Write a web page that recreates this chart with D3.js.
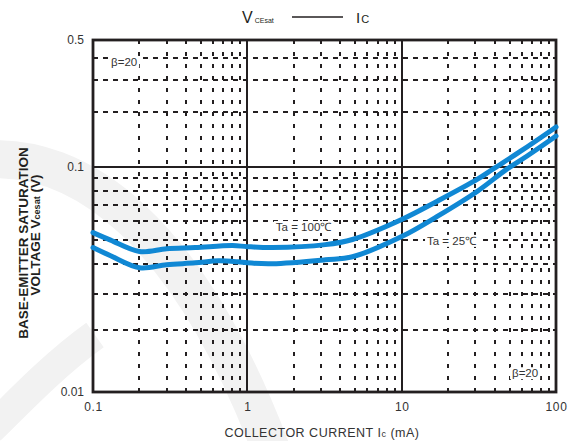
<!DOCTYPE html>
<html>
<head>
<meta charset="utf-8">
<script src="https://cdnjs.cloudflare.com/ajax/libs/d3/7.8.5/d3.min.js"></script>
<style>
  body { margin: 0; background: #fff; }
  svg { display: block; font-family: "Liberation Sans", Arial, sans-serif; }
</style>
</head>
<body>
<script>
(function() {

	// data
	var ic100  = [0.1, 0.13, 0.2, 0.3, 0.46, 0.8, 1, 1.45, 3.2, 4.8, 10, 17, 31, 39, 58, 96, 100];
	var vce100 = [0.0537, 0.050, 0.0449, 0.0461, 0.0466, 0.0475, 0.0470, 0.0466, 0.0479, 0.0503, 0.0608, 0.0723, 0.0891, 0.098, 0.121, 0.162, 0.166];

	var ic25  = [0.1, 0.13, 0.2, 0.3, 0.46, 0.65, 0.87, 1, 1.45, 3.2, 4.8, 10, 17, 31, 48, 65, 96, 100];
	var vce25 = [0.0466, 0.0431, 0.0385, 0.0396, 0.0403, 0.0411, 0.0407, 0.0403, 0.0400, 0.0415, 0.0427, 0.0517, 0.0626, 0.0795, 0.098, 0.115, 0.1444, 0.148];

	var xTicks = [0.1, 1, 10, 100];
	var yTicks = [0.01, 0.1, 0.5];
	var xMinor = [0.2, 0.3, 0.4, 0.5, 0.6, 0.7, 0.8, 0.9, 2, 3, 4, 5, 6, 7, 8, 9, 20, 30, 40, 50, 60, 70, 80, 90];
	var yMinor = [0.02, 0.03, 0.04, 0.05, 0.06, 0.07, 0.08, 0.09, 0.2, 0.3, 0.4];

	var margin = {top: 40, right: 20, bottom: 49, left: 93};
	var width = 576 - margin.left - margin.right;
	var height = 441 - margin.top - margin.bottom;

	var root = d3.select("body").append("svg")
		.attr("width", 576)
		.attr("height", 441);

	// faint watermark swoosh in the background
	var wm = root.append("g").attr("fill", "none").attr("stroke", "#f2f2f2");
	wm.append("path")
		.attr("d", "M-20,160 C80,150 190,230 275,460")
		.attr("stroke-width", 38);
	wm.append("path")
		.attr("d", "M-10,430 C30,390 60,360 95,335")
		.attr("stroke-width", 30);

	var svg = root.append("g")
		.attr("transform", "translate(" + margin.left + "," + margin.top + ")");

	var x = d3.scaleLog()
		.domain([0.1, 100])
		.range([0, width]);

	// the printed chart does not keep the same spacing in every decade
	var y = d3.scaleLog()
		.domain([0.01, 0.03, 0.1, 0.5])
		.range([height, 254, 127, 0]);

	var ink = "#231f20";

	// minor grid
	svg.selectAll(".hgrid")
		.data(yMinor)
	.enter().append("line")
		.attr("class", "hgrid")
		.attr("x1", 0).attr("x2", width)
		.attr("y1", function(d) { return Math.round(y(d)); })
		.attr("y2", function(d) { return Math.round(y(d)); })
		.attr("stroke", ink)
		.attr("stroke-width", 2)
		.attr("stroke-dasharray", "5,5");

	svg.selectAll(".vgrid")
		.data(xMinor)
	.enter().append("line")
		.attr("class", "vgrid")
		.attr("y1", 0).attr("y2", height)
		.attr("x1", function(d) { return Math.round(x(d)); })
		.attr("x2", function(d) { return Math.round(x(d)); })
		.attr("stroke", ink)
		.attr("stroke-width", 2)
		.attr("stroke-dasharray", "4,8");

	// major grid
	svg.selectAll(".vmajor")
		.data([1, 10])
	.enter().append("line")
		.attr("y1", 0).attr("y2", height)
		.attr("x1", function(d) { return Math.round(x(d)); })
		.attr("x2", function(d) { return Math.round(x(d)); })
		.attr("stroke", ink)
		.attr("stroke-width", 2);

	svg.append("line")
		.attr("x1", 0).attr("x2", width)
		.attr("y1", y(0.1)).attr("y2", y(0.1))
		.attr("stroke", ink)
		.attr("stroke-width", 2);

	// frame
	svg.append("rect")
		.attr("width", width)
		.attr("height", height)
		.attr("fill", "none")
		.attr("stroke", ink)
		.attr("stroke-width", 2.8);

	// axes (labels only)
	var xAxis = d3.axisBottom(x)
		.tickValues(xTicks)
		.tickFormat(function(d) { return d; })
		.tickSize(0)
		.tickPadding(10);

	var xg = svg.append("g")
		.attr("transform", "translate(0," + height + ")")
		.call(xAxis);
	xg.select(".domain").remove();
	xg.selectAll("text")
		.attr("font-size", 12)
		.attr("letter-spacing", 0.6)
		.attr("fill", "#333");

	var yAxis = d3.axisLeft(y)
		.tickValues(yTicks)
		.tickFormat(function(d) { return d; })
		.tickSize(0)
		.tickPadding(9);

	var yg = svg.append("g").call(yAxis);
	yg.select(".domain").remove();
	yg.selectAll("text")
		.attr("font-size", 12)
		.attr("fill", "#333");

	// labels in the plot, on white boxes (under the curves)
	function note(px, py, txt) {
		var g = svg.append("g").attr("transform", "translate(" + px + "," + py + ")");
		var t = g.append("text")
			.attr("font-size", 11.5)
			.attr("fill", "#333")
			.text(txt);
		var b = t.node().getBBox();
		g.insert("rect", "text")
			.attr("x", b.x - 2).attr("y", b.y)
			.attr("width", b.width + 4).attr("height", b.height)
			.attr("fill", "#fff");
	}

	note(x(0.131), y(0.36), "β=20");
	note(x(51.9), y(0.0118), "β=20");
	note(x(1.53), y(0.0545), "Ta = 100℃");
	note(x(14.6), y(0.0478), "Ta = 25℃");

	// curves
	var line = d3.line()
		.x(function(d) { return x(d[0]); })
		.y(function(d) { return y(d[1]); })
		.curve(d3.curveCatmullRom.alpha(0.5));

	var series = [d3.zip(ic100, vce100), d3.zip(ic25, vce25)];

	svg.selectAll(".curve")
		.data(series)
	.enter().append("path")
		.attr("class", "curve")
		.attr("d", line)
		.attr("fill", "none")
		.attr("stroke", "#1088d4")
		.attr("stroke-width", 5)
		.attr("stroke-linecap", "round");

	// legend at the top
	var leg = root.append("g").attr("fill", "#231f20");
	var lv = leg.append("text")
		.attr("x", 242).attr("y", 23)
		.attr("font-size", 16);
	lv.append("tspan").text("V");
	lv.append("tspan").attr("font-size", 7).attr("dx", 2).text("CEsat");

	leg.append("line")
		.attr("x1", 292).attr("x2", 343)
		.attr("y1", 17).attr("y2", 17)
		.attr("stroke", "#231f20")
		.attr("stroke-width", 1.5);

	var li = leg.append("text")
		.attr("x", 356).attr("y", 23)
		.attr("font-size", 15);
	li.append("tspan").text("I");
	li.append("tspan").attr("font-size", 11).attr("dx", 1).text("C");

	// axis titles
	var xt = root.append("text")
		.attr("x", 322).attr("y", 437)
		.attr("text-anchor", "middle")
		.attr("font-size", 12.5)
		.attr("letter-spacing", 0.5)
		.attr("fill", "#333");
	xt.append("tspan").text("COLLECTOR CURRENT  I");
	xt.append("tspan").attr("font-size", 9).text("c");
	xt.append("tspan").text("  (mA)");

	root.append("text")
		.attr("transform", "translate(28,243) rotate(-90)")
		.attr("text-anchor", "middle")
		.attr("font-size", 13.5)
		.attr("font-weight", "bold")
		.attr("fill", "#231f20")
		.text("BASE-EMITTER SATURATION");

	var yt2 = root.append("text")
		.attr("transform", "translate(40,235) rotate(-90)")
		.attr("text-anchor", "middle")
		.attr("font-size", 13.5)
		.attr("font-weight", "bold")
		.attr("fill", "#231f20");
	yt2.append("tspan").text("VOLTAGE V");
	yt2.append("tspan").attr("font-size", 9).text("cesat");
	yt2.append("tspan").text(" (V)");

})();
</script>
</body>
</html>
